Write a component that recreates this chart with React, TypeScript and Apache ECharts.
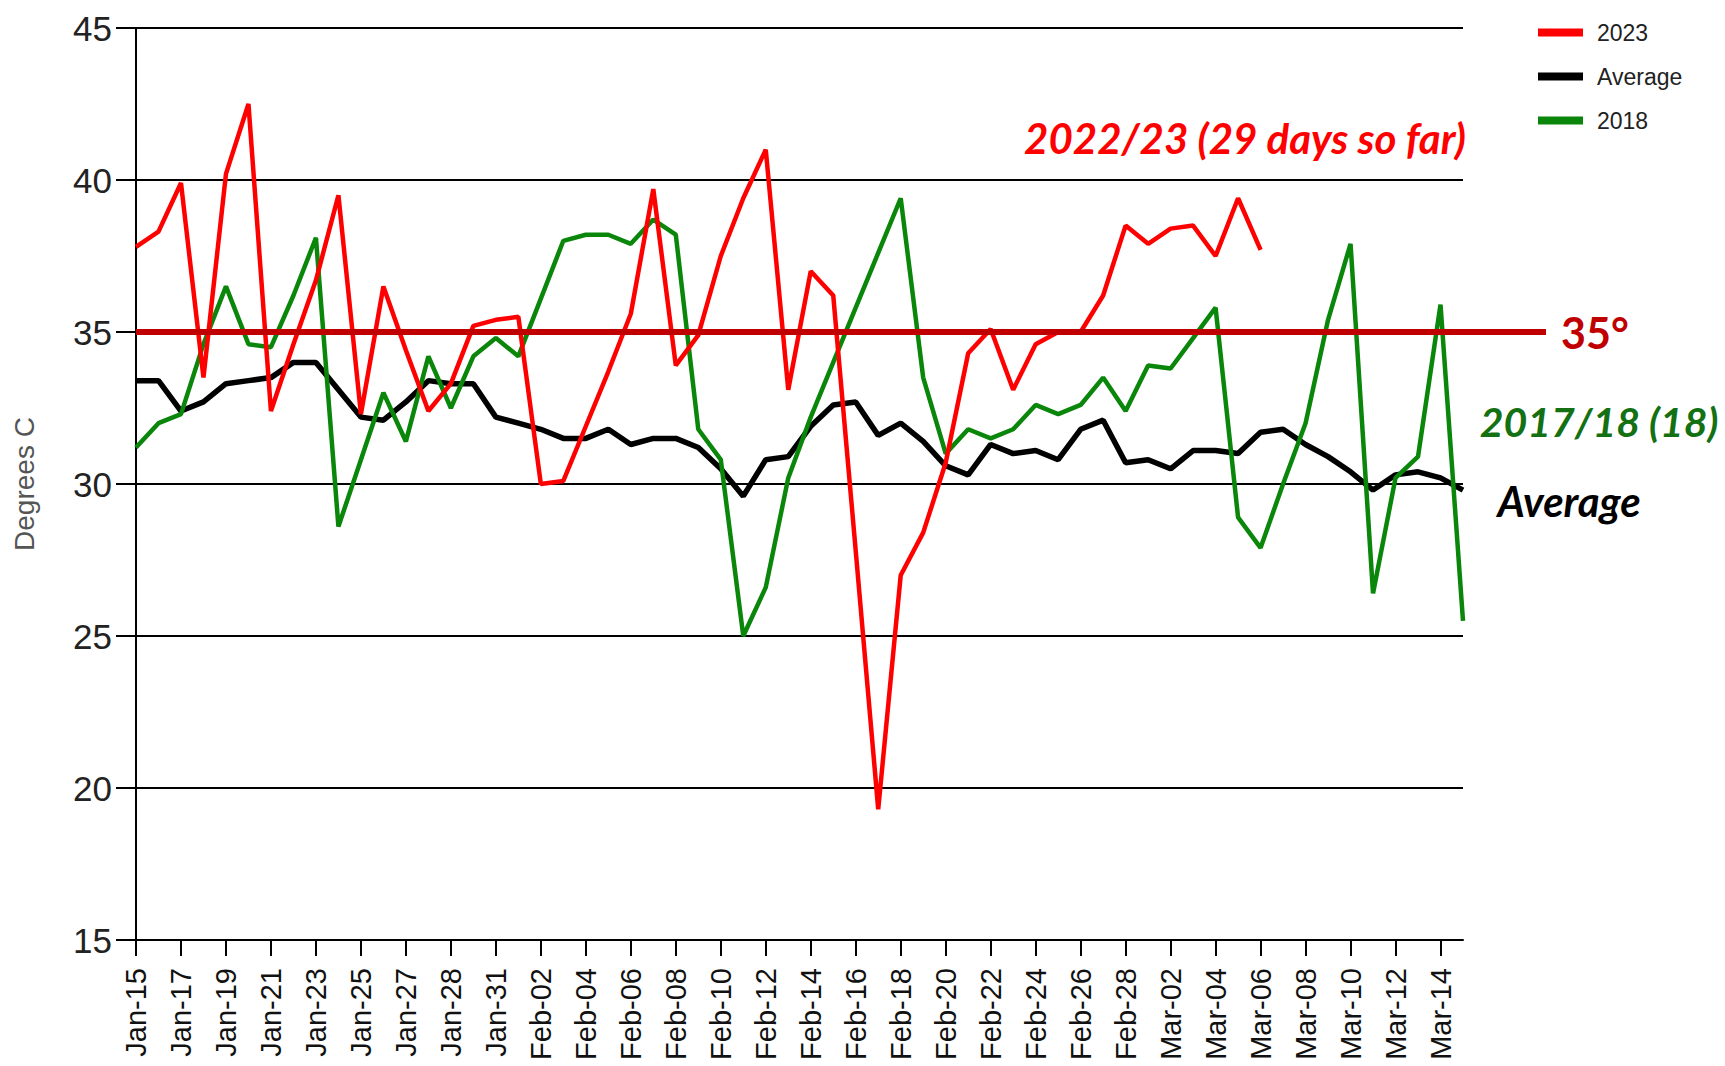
import React, { useEffect, useRef } from "react";
import * as echarts from "echarts";

const DATES = [
  "Jan-15", "Jan-16", "Jan-17", "Jan-18", "Jan-19", "Jan-20", "Jan-21", "Jan-22", "Jan-23", "Jan-24",
  "Jan-25", "Jan-26", "Jan-27", "Jan-28", "Jan-28", "Jan-30", "Jan-31", "Feb-01", "Feb-02", "Feb-03",
  "Feb-04", "Feb-05", "Feb-06", "Feb-07", "Feb-08", "Feb-09", "Feb-10", "Feb-11", "Feb-12", "Feb-13",
  "Feb-14", "Feb-15", "Feb-16", "Feb-17", "Feb-18", "Feb-19", "Feb-20", "Feb-21", "Feb-22", "Feb-23",
  "Feb-24", "Feb-25", "Feb-26", "Feb-27", "Feb-28", "Mar-01", "Mar-02", "Mar-03", "Mar-04", "Mar-05",
  "Mar-06", "Mar-07", "Mar-08", "Mar-09", "Mar-10", "Mar-11", "Mar-12", "Mar-13", "Mar-14", "Mar-15",
];

const SERIES_2023 = [
  37.8, 38.3, 39.9, 33.5, 40.2, 42.5, 32.4, 34.6, 36.7, 39.5,
  32.3, 36.5, 34.4, 32.4, 33.3, 35.2, 35.4, 35.5, 30.0, 30.1,
  31.9, 33.7, 35.6, 39.7, 33.9, 34.9, 37.5, 39.4, 41.0, 33.1,
  37.0, 36.2, 27.8, 19.3, 27.0, 28.4, 30.7, 34.3, 35.1, 33.1,
  34.6, 35.0, 35.0, 36.2, 38.5, 37.9, 38.4, 38.5, 37.5, 39.4,
  37.7,
];

const SERIES_AVERAGE = [
  33.4, 33.4, 32.4, 32.7, 33.3, 33.4, 33.5, 34.0, 34.0, 33.1,
  32.2, 32.1, 32.7, 33.4, 33.3, 33.3, 32.2, 32.0, 31.8, 31.5,
  31.5, 31.8, 31.3, 31.5, 31.5, 31.2, 30.5, 29.6, 30.8, 30.9,
  31.9, 32.6, 32.7, 31.6, 32.0, 31.4, 30.6, 30.3, 31.3, 31.0,
  31.1, 30.8, 31.8, 32.1, 30.7, 30.8, 30.5, 31.1, 31.1, 31.0,
  31.7, 31.8, 31.3, 30.9, 30.4, 29.8, 30.3, 30.4, 30.2, 29.8,
];

const SERIES_2018 = [
  31.2, 32.0, 32.3, 34.6, 36.5, 34.6, 34.5, 36.2, 38.1, 28.6,
  30.8, 33.0, 31.4, 34.2, 32.5, 34.2, 34.8, 34.2, 36.1, 38.0,
  38.2, 38.2, 37.9, 38.7, 38.2, 31.8, 30.8, 25.0, 26.6, 30.2,
  32.2, 34.0, 35.8, 37.6, 39.4, 33.5, 31.0, 31.8, 31.5, 31.8,
  32.6, 32.3, 32.6, 33.5, 32.4, 33.9, 33.8, 34.8, 35.8, 28.9,
  27.9, 30.0, 32.0, 35.4, 37.9, 26.4, 30.2, 30.9, 35.9, 25.5,
];

const Y_MIN = 15;
const Y_MAX = 45;
const Y_STEP = 5;
const THRESHOLD = 35;

const LEGEND_NAMES = ["2023", "Average", "2018"];

const ANNOT_2023 = "2022/23 (29 days so far)";
const ANNOT_2018 = "2017/18 (18)";
const ANNOT_AVG = "Average";
const ANNOT_THRESHOLD = "35°";

const SANS = "'Liberation Sans', Arial, sans-serif";
const ANNOT_FONT = "Lato, 'Open Sans', sans-serif";

export default function App() {
  const ref = useRef<HTMLDivElement>(null);

  useEffect(() => {
    if (!ref.current) return;
    const chart = echarts.init(ref.current, undefined, { renderer: "svg" });
    chart.setOption({
      animation: false,
      backgroundColor: "#ffffff",
      grid: { left: 136, right: 262, top: 28, bottom: 126, containLabel: false },
      legend: {
        data: LEGEND_NAMES,
        orient: "vertical",
        left: 1538,
        top: 21,
        itemWidth: 45,
        itemHeight: 8,
        itemGap: 21,
        icon: "rect",
        padding: 0,
        textStyle: {
          fontSize: 23,
          fontFamily: SANS,
          color: "#222",
          lineHeight: 22,
          padding: [0, 0, 0, 9],
        },
      },
      xAxis: {
        type: "category",
        data: DATES,
        boundaryGap: false,
        axisLine: { lineStyle: { color: "#000", width: 2 } },
        axisTick: { interval: 1, length: 16, lineStyle: { color: "#000", width: 2 } },
        axisLabel: {
          interval: 1,
          rotate: 90,
          margin: 28,
          fontSize: 29,
          color: "#111",
          fontFamily: SANS,
        },
        splitLine: { show: false },
      },
      yAxis: {
        type: "value",
        min: Y_MIN,
        max: Y_MAX,
        interval: Y_STEP,
        name: "Degrees C",
        nameLocation: "middle",
        nameGap: 98,
        nameTextStyle: { fontSize: 28, color: "#555", fontFamily: SANS },
        axisLine: { show: true, lineStyle: { color: "#000", width: 2 } },
        axisTick: { show: true, length: 20, lineStyle: { color: "#000", width: 2 } },
        axisLabel: { margin: 24, fontSize: 35, color: "#222", fontFamily: SANS },
        splitLine: { show: true, lineStyle: { color: "#000", width: 2 } },
      },
      series: [
        {
          name: "Average",
          type: "line",
          data: SERIES_AVERAGE,
          showSymbol: false,
          color: "#000000",
          lineStyle: { width: 5.5, color: "#000000" },
          z: 3,
        },
        {
          name: "2018",
          type: "line",
          data: SERIES_2018,
          showSymbol: false,
          color: "#0a860a",
          lineStyle: { width: 4.5, color: "#0a860a" },
          z: 4,
        },
        {
          name: "2023",
          type: "line",
          data: SERIES_2023,
          showSymbol: false,
          color: "#ff0000",
          lineStyle: { width: 4.5, color: "#ff0000" },
          z: 5,
        },
      ],
    });

    const x0 = chart.convertToPixel({ xAxisIndex: 0 }, 0) as number;
    const y35 = chart.convertToPixel({ yAxisIndex: 0 }, THRESHOLD) as number;

    chart.setOption({
      graphic: [
        {
          type: "line",
          z: 100,
          shape: { x1: x0, y1: y35, x2: 1546, y2: y35 },
          style: { stroke: "#c00000", lineWidth: 6 },
        },
        {
          type: "text",
          z: 100,
          x: 1561,
          y: y35,
          style: {
            text: ANNOT_THRESHOLD,
            fill: "#c00000",
            font: `bold 43px ${ANNOT_FONT}`,
            textAlign: "left",
            textVerticalAlign: "middle",
          },
        },
        {
          type: "text",
          z: 100,
          x: 1245,
          y: 138,
          style: {
            text: ANNOT_2023,
            fill: "#ff0000",
            font: `italic bold 42px ${ANNOT_FONT}`,
            textAlign: "center",
            textVerticalAlign: "middle",
          },
        },
        {
          type: "text",
          z: 100,
          x: 1599,
          y: 421,
          style: {
            text: ANNOT_2018,
            fill: "#137013",
            font: `italic bold 41px ${ANNOT_FONT}`,
            textAlign: "center",
            textVerticalAlign: "middle",
          },
        },
        {
          type: "text",
          z: 100,
          x: 1569,
          y: 501,
          style: {
            text: ANNOT_AVG,
            fill: "#000000",
            font: `italic bold 42px ${ANNOT_FONT}`,
            textAlign: "center",
            textVerticalAlign: "middle",
          },
        },
      ],
    });

    return () => {
      chart.dispose();
    };
  }, []);

  return (
    <div
      ref={ref}
      style={{ position: "fixed", left: 0, top: 0, width: 1725, height: 1066, background: "#fff" }}
    />
  );
}
